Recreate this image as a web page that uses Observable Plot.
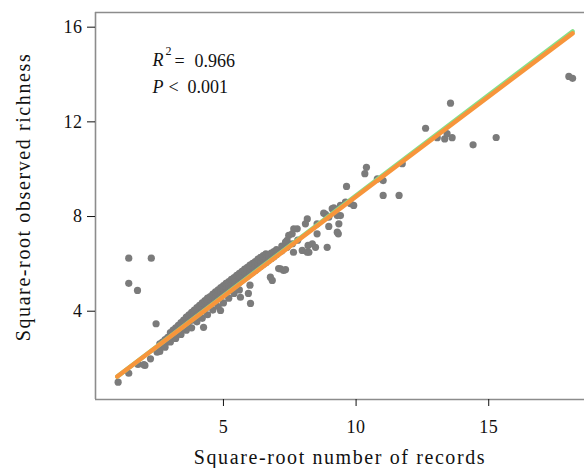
<!DOCTYPE html>
<html><head><meta charset="utf-8">
<script src="https://cdn.jsdelivr.net/npm/d3@7"></script>
<script src="https://cdn.jsdelivr.net/npm/@observablehq/plot@0.6"></script>
<style>
html,body{margin:0;padding:0;background:#fff;}
#chart{width:584px;height:468px;overflow:hidden;}
#chart svg g[aria-label="x-axis tick label"] text,
#chart svg g[aria-label="y-axis tick label"] text{font-size:18px !important;letter-spacing:0.5px;}
#chart svg g[aria-label="x-axis label"] text,
#chart svg g.ylab text{font-size:20px !important;letter-spacing:1.6px;}
#chart svg g.stat text{font-size:18px !important;}
#chart svg g.sup text{font-size:12px !important;}
</style>
</head><body><div id="chart"></div>
<script>
// sqrt number of records (x) and sqrt observed richness (y)
const recX = [
 1.03,1.43,1.78,2.04,2.25,2.50,2.00,1.43,2.28,1.43,1.76,2.46,
 2.6,2.6,2.6,2.7,2.7,2.8,2.8,2.8,2.9,2.9,
 3.0,3.0,3.0,3.0,3.1,3.1,3.1,3.2,3.2,3.2,3.2,3.3,3.3,3.3,
 3.4,3.4,3.4,3.4,3.5,3.5,3.5,3.6,3.6,3.6,3.6,3.7,3.7,3.7,
 3.8,3.8,3.8,3.8,3.9,3.9,3.9,4.0,4.0,4.0,4.0,4.1,4.1,4.1,
 4.2,4.2,4.2,4.2,4.3,4.3,4.3,4.4,4.4,4.4,4.4,4.5,4.5,4.5,
 4.6,4.6,4.6,4.6,4.7,4.7,4.7,4.8,4.8,4.8,4.8,4.9,4.9,4.9,
 5.0,5.0,5.0,5.0,5.1,5.1,5.1,5.2,5.2,5.2,5.2,5.3,5.3,5.3,
 5.4,5.4,5.4,5.4,5.5,5.5,5.5,5.6,5.6,5.6,5.6,5.7,5.7,5.7,
 5.8,5.8,5.8,5.9,5.9,5.9,6.0,6.0,6.0,6.0,6.1,6.1,6.1,
 6.2,6.2,6.2,6.3,6.3,6.3,6.4,6.4,6.4,6.5,6.5,6.5,6.6,6.6,6.6,
 6.7,6.7,6.8,6.8,6.9,6.9,7.0,7.0,7.2,7.2,7.4,7.6,7.8,
 4.25,4.89,5.64,5.94,6.02,6.77,6.84,7.08,7.34,7.15,7.27,7.64,7.97,8.16,8.19,8.22,8.35,8.47,8.91,
 7.78,7.46,7.40,7.65,7.59,7.34,
 8.53,9.29,9.35,9.41,8.16,8.09,8.53,8.97,9.33,
 8.78,8.85,8.97,9.29,9.10,9.16,9.41,9.60,9.79,9.91,
 9.64,10.33,10.39,10.80,11.02,11.02,11.62,11.74,
 12.62,13.06,13.34,13.43,13.62,13.56,14.41,15.28,18.02,18.16
];
const richY = [
 1.00,1.38,1.75,1.71,1.99,2.27,1.74,6.24,6.24,5.18,4.88,3.47,
 2.45,2.62,2.30,2.55,2.70,2.62,2.80,2.48,2.74,2.90,
 2.85,3.02,3.10,2.70,2.95,3.12,3.20,3.05,3.22,3.30,2.85,3.15,3.33,3.40,
 3.25,3.45,3.52,3.02,3.35,3.55,3.62,3.45,3.64,3.75,3.20,3.55,3.75,3.85,
 3.62,3.85,3.95,3.30,3.72,3.95,4.05,3.82,4.05,4.15,3.55,3.92,4.12,4.25,
 4.00,4.22,4.35,3.70,4.10,4.32,4.45,4.18,4.42,4.55,3.85,4.28,4.50,4.62,
 4.35,4.58,4.72,4.05,4.45,4.68,4.82,4.52,4.78,4.90,4.20,4.62,4.85,5.00,
 4.70,4.95,5.08,4.35,4.80,5.05,5.18,4.88,5.12,5.25,4.55,4.98,5.22,5.35,
 5.05,5.30,5.42,4.75,5.15,5.40,5.52,5.22,5.48,5.60,4.90,5.32,5.55,5.68,
 5.40,5.65,5.78,5.48,5.72,5.85,5.58,5.80,5.95,5.10,5.65,5.90,6.02,
 5.72,5.98,6.10,5.82,6.05,6.20,5.90,6.15,6.28,5.98,6.22,6.35,6.05,6.30,6.42,
 6.15,6.38,6.22,6.45,6.30,6.52,6.40,6.60,6.55,6.75,6.70,6.85,7.00,
 3.32,4.03,4.59,4.75,4.33,5.44,5.30,5.80,5.76,5.79,5.72,6.49,6.57,6.49,6.78,6.49,6.85,6.70,6.70,
 7.48,7.20,6.99,7.48,7.27,6.92,
 7.27,7.34,7.69,8.04,7.90,7.69,7.69,7.58,7.27,
 8.14,8.09,7.97,8.04,8.33,8.37,8.47,8.61,8.54,8.47,
 9.27,9.81,10.08,9.59,9.52,8.89,8.89,10.23,
 11.73,11.33,11.28,11.50,11.33,12.79,11.03,11.34,13.92,13.84
];
// fitted regression lines (endpoints)
const fitX = [1.0, 18.16];
const fitOrangeY = [1.24, 15.74];
const fitGreenY = [1.24, 15.82];
const xTicks = [5, 10, 15];
const yTicks = [4, 8, 12, 16];

const pts = recX.map((x, i) => ({x, y: richY[i]}));
const orange = fitX.map((x, i) => ({x, y: fitOrangeY[i]}));
const green = fitX.map((x, i) => ({x, y: fitGreenY[i]}));

const xDom = [0.177, 18.61], yDom = [0.27, 16.62];
const font = "'Liberation Serif', serif";

const chart = Plot.plot({
  width: 584, height: 468,
  marginLeft: 95, marginRight: 0, marginTop: 12, marginBottom: 69,
  style: {fontFamily: font, fontSize: "16px", color: "#111", background: "#fff"},
  x: {domain: xDom},
  y: {domain: yDom},
  marks: [
    Plot.ruleX([xDom[0]], {stroke: "#8c8c8c", strokeWidth: 1.6}),
    Plot.ruleY([yDom[0], yDom[1]], {stroke: "#8c8c8c", strokeWidth: 1.6}),
    Plot.axisX({ticks: xTicks, tickSize: 7, tickPadding: 14,
      label: "Square-root number of records", labelAnchor: "center", labelArrow: "none", labelOffset: 64}),
    Plot.axisY({ticks: yTicks, tickSize: 8, tickPadding: 5, label: null}),
    Plot.text(["Square-root observed richness"], {frameAnchor: "left", textAnchor: "middle", rotate: -90, dx: -72, dy: -9, className: "ylab"}),
    Plot.dot(pts, {x: "x", y: "y", r: 3.6, fill: "#7b7b7b", stroke: "none"}),
    Plot.line(green, {x: "x", y: "y", stroke: "#86e08a", strokeWidth: 4.5}),
    Plot.line(orange, {x: "x", y: "y", stroke: "#f7953b", strokeWidth: 4.5}),
    Plot.text(["R"], {frameAnchor: "top-left", dx: 57, dy: 41, fontStyle: "italic", textAnchor: "start", className: "stat"}),
    Plot.text(["2"], {frameAnchor: "top-left", dx: 70, dy: 34, textAnchor: "start", className: "sup"}),
    Plot.text(["="], {frameAnchor: "top-left", dx: 79, dy: 42, textAnchor: "start", className: "stat"}),
    Plot.text(["0.966"], {frameAnchor: "top-left", dx: 99, dy: 42, textAnchor: "start", className: "stat"}),
    Plot.text(["P"], {frameAnchor: "top-left", dx: 57, dy: 68, fontStyle: "italic", textAnchor: "start", className: "stat"}),
    Plot.text(["<"], {frameAnchor: "top-left", dx: 73, dy: 68, textAnchor: "start", className: "stat"}),
    Plot.text(["0.001"], {frameAnchor: "top-left", dx: 92, dy: 68, textAnchor: "start", className: "stat"})
  ]
});
document.getElementById("chart").appendChild(chart);
</script>
</body></html>
